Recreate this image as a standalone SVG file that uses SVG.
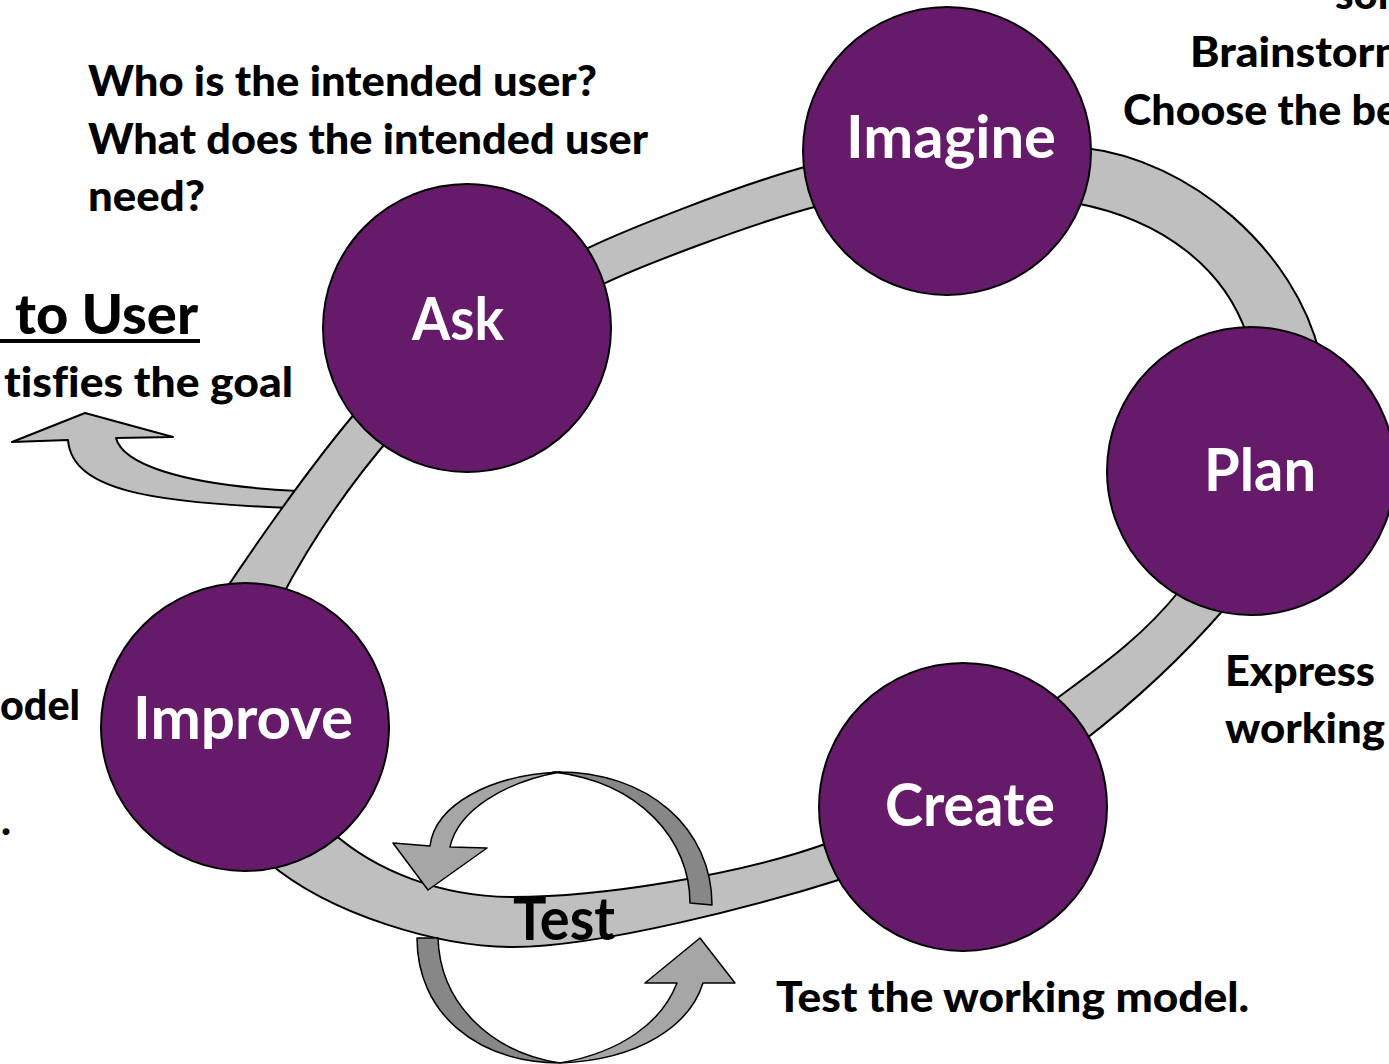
<svg xmlns="http://www.w3.org/2000/svg" width="1389" height="1064" viewBox="0 0 1389 1064">
<style>
.band{fill:#BFBFBF;stroke:#000;stroke-width:2;fill-rule:evenodd;stroke-linejoin:round}
.arrL{fill:#A6A6A6;stroke:#000;stroke-width:1.5;stroke-linejoin:round}
.arrD{fill:#878787;stroke:#000;stroke-width:1.5;stroke-linejoin:round}
.node{fill:#661A6A;stroke:#000;stroke-width:2}
.lbl{font-family:Lato,"Open Sans","Liberation Sans",sans-serif;font-weight:700;font-size:60px;fill:#fff}
.txt{font-family:Lato,"Liberation Sans",sans-serif;font-weight:900;font-size:42px;fill:#000;font-variant-ligatures:none}
</style>
<rect width="1389" height="1064" fill="#fff"/>
<g id="connectors">
  <path id="to-user-arrow" class="band" d="M12,442 L85,413 L173,437 L116,438 C122,462 175,485 298,491 L293,508 C150,503 72,490 68,440 Z"/>
  <path id="ring" class="band" d="M220,598 C245,560 310,465 362,405 L580,252 C615,234 740,184 812,165 L1085,148 C1190,160 1295,250 1320,355 L1225,608 C1180,660 1130,705 1082,742 L845,878 C760,905 600,947 513,947 C440,947 330,915 268,862 Z M280,600 C311.7,539.5 350,483.5 395,432 L597,287 C635,268 755,222 822,205 L1075,203 C1165,220 1225,270 1247,335 L1180,590 C1140,640 1095,670 1052,702 L828,843 C740,875 600,897 513,897 C440,897 375,870 333,833 Z"/>
  <g id="test-loop">
    <path class="arrD" d="M553,772 C650,770 712,830 712,905 L690,903 C690,840 640,782 553,772 Z"/>
    <path class="arrL" d="M393,843 L430,846 C435,805 490,775 560,772 C505,782 458,810 450,847 L487,848 L428,890 Z"/>
    <path class="arrD" d="M417,938 L438,938 C440,1003 490,1052 560,1063 C475,1062 417,1012 417,938 Z"/>
    <path class="arrL" d="M645,983 L677,983 C662,1022 622,1052 560,1063 C640,1060 690,1025 703,983 L735,983 L700,938 Z"/>
  </g>
</g>
<g id="ask"><circle class="node" cx="467" cy="328" r="144"/><text class="lbl" x="412" y="340" textLength="92" lengthAdjust="spacingAndGlyphs">Ask</text></g>
<g id="imagine"><circle class="node" cx="947" cy="151" r="144"/><text class="lbl" x="846" y="158" textLength="210" lengthAdjust="spacingAndGlyphs">Imagine</text></g>
<g id="plan"><circle class="node" cx="1251" cy="471" r="144"/><text class="lbl" x="1204" y="491" textLength="112" lengthAdjust="spacingAndGlyphs">Plan</text></g>
<g id="create"><circle class="node" cx="963" cy="807" r="144"/><text class="lbl" x="885" y="826" textLength="170" lengthAdjust="spacingAndGlyphs">Create</text></g>
<g id="improve"><circle class="node" cx="245" cy="727" r="144"/><text class="lbl" x="133" y="739" textLength="220" lengthAdjust="spacingAndGlyphs">Improve</text></g>
<g id="test-label"><text class="lbl" x="513" y="940" style="fill:#000" textLength="102" lengthAdjust="spacingAndGlyphs">Test</text></g>
<g id="annotations">
  <text class="txt" x="88" y="96" textLength="509" lengthAdjust="spacingAndGlyphs">Who is the intended user?</text>
  <text class="txt" x="88" y="154" textLength="560" lengthAdjust="spacingAndGlyphs">What does the intended user</text>
  <text class="txt" x="88" y="211" textLength="117" lengthAdjust="spacingAndGlyphs">need?</text>
  <text class="txt" x="15" y="334" style="font-size:55px" textLength="183" lengthAdjust="spacingAndGlyphs">to User</text>
  <rect x="0" y="339" width="200" height="4" fill="#000"/>
  <text class="txt" x="4" y="397" textLength="289" lengthAdjust="spacingAndGlyphs">tisfies the goal</text>
  <text class="txt" x="1335" y="9">sol</text>
  <text class="txt" x="1190" y="67" textLength="222" lengthAdjust="spacingAndGlyphs">Brainstorm</text>
  <text class="txt" x="1123" y="125" textLength="276" lengthAdjust="spacingAndGlyphs">Choose the be</text>
  <text class="txt" x="1225" y="686" textLength="150" lengthAdjust="spacingAndGlyphs">Express</text>
  <text class="txt" x="1225" y="743" textLength="160" lengthAdjust="spacingAndGlyphs">working</text>
  <text class="txt" x="0" y="720" textLength="80" lengthAdjust="spacingAndGlyphs">odel</text>
  <text class="txt" x="1" y="835">.</text>
  <text class="txt" x="776" y="1012" textLength="473" lengthAdjust="spacingAndGlyphs">Test the working model.</text>
</g>
</svg>
